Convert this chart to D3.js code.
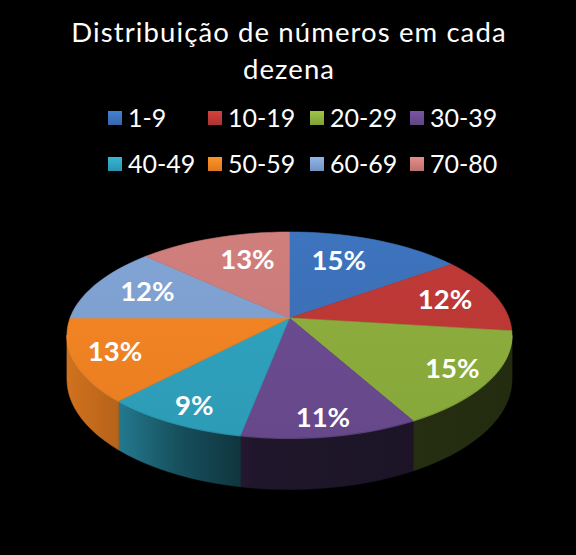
<!DOCTYPE html>
<html><head><meta charset="utf-8">
<script src="https://cdn.jsdelivr.net/npm/d3@7"></script>
<style>html,body{margin:0;padding:0;background:#000;}svg{display:block;}</style>
</head><body>
<script>
const categories = ["1-9","10-19","20-29","30-39","40-49","50-59","60-69","70-80"];
const values = [15,12,15,11,9,13,12,13];
const colors = ["#3b6fb6","#b93835","#8aab3c","#694a8e","#2e9fbb","#ee8122","#7c9ecd","#c87a78"];
const titleLines = ["Distribuição de números em cada","dezena"];

const W = 576, H = 555;
const svg = d3.select("body").append("svg").attr("width", W).attr("height", H);
const defs = svg.append("defs");
svg.append("rect").attr("width", W).attr("height", H).attr("fill", "#000");

// title
const title = svg.append("g").attr("fill", "#fff").attr("font-family", "Lato, 'Open Sans', sans-serif").attr("text-anchor", "middle");
title.selectAll("text").data(titleLines).join("text")
  .attr("x", 289).attr("y", (d, i) => 42 + i * 37)
  .attr("font-size", 27.5).attr("letter-spacing", 1.1).text(d => d);

// legend
const legendFont = 25;
const legCols = [108, 208, 310, 410];
const legRows = [118, 164];
const lg = svg.append("g").attr("font-family", "Lato, 'Open Sans', sans-serif");
categories.forEach((c, i) => {
  const x = legCols[i % 4], y = legRows[Math.floor(i / 4)];
  const gid = "lg" + i;
  const gr = defs.append("linearGradient").attr("id", gid).attr("x1", 0).attr("y1", 0).attr("x2", 0).attr("y2", 1);
  gr.append("stop").attr("offset", 0).attr("stop-color", d3.color(colors[i]).brighter(0.4));
  gr.append("stop").attr("offset", 1).attr("stop-color", d3.color(colors[i]).darker(0.2));
  lg.append("rect").attr("x", x).attr("y", y - 7).attr("width", 14).attr("height", 14).attr("fill", `url(#${gid})`);
  lg.append("text").attr("x", x + 20).attr("y", y + 9).attr("fill", "#fff").attr("font-size", legendFont).text(c);
});

// 3D pie projection
const cx = 289.5, cy = 318, B = 219.5, A = 100.2, k = 0.165, depth = 43;
function proj(theta, f, dz, fx) {
  const u = Math.sin(theta), v = Math.cos(theta);
  const s = 1 / (1 + k * f * v);
  return [cx + B * (fx == null ? f : fx) * u * s, cy - A * f * v * s + dz * s];
}
const pie = d3.pie().sort(null).value(d => d).startAngle(0).endAngle(2 * Math.PI);
const arcs = pie(values);
const line = d3.line();
const N = 60;
function arcPts(a0, a1, dz) {
  const n = Math.max(2, Math.ceil(N * (a1 - a0) / Math.PI));
  return d3.range(n + 1).map(j => proj(a0 + (a1 - a0) * j / n, 1, dz));
}

const th1 = Math.acos(-k), th2 = 2 * Math.PI - th1;
const sideG = svg.append("g");
const topG = svg.append("g");
arcs.forEach((a, i) => {
  const base = d3.rgb(colors[i]);
  const s0 = Math.max(a.startAngle, th1), s1 = Math.min(a.endAngle, th2);
  if (s1 > s0) {
    const gid = "sg" + i;
    const gr = defs.append("linearGradient").attr("id", gid).attr("gradientUnits", "userSpaceOnUse")
      .attr("x1", 66).attr("y1", 0).attr("x2", 512).attr("y2", 0);
    [[0, 0.88], [0.12, 0.76], [0.25, 0.5], [0.42, 0.3], [0.6, 0.28], [1, 0.26]].forEach(([o, m]) => {
      gr.append("stop").attr("offset", o).attr("stop-color", d3.rgb(base.r * m, base.g * m, base.b * m));
    });
    const top = arcPts(s0, s1, 0), bot = arcPts(s0, s1, depth).reverse();
    sideG.append("path").attr("d", line(top.concat(bot)) + "Z").attr("fill", `url(#${gid})`)
      .attr("stroke", `url(#${gid})`).attr("stroke-width", 0.6);
  }
  const gid2 = "tg" + i;
  const gr2 = defs.append("linearGradient").attr("id", gid2).attr("gradientUnits", "userSpaceOnUse")
    .attr("x1", 0).attr("y1", 225).attr("x2", 0).attr("y2", 445);
  gr2.append("stop").attr("offset", 0).attr("stop-color", base.brighter(0.12));
  gr2.append("stop").attr("offset", 1).attr("stop-color", base.darker(0.08));
  const pts = [[cx, cy]].concat(arcPts(a.startAngle, a.endAngle, 0));
  topG.append("path").attr("d", line(pts) + "Z").attr("fill", `url(#${gid2})`)
    .attr("stroke", `url(#${gid2})`).attr("stroke-width", 0.6).attr("stroke-linejoin", "round");
  if (s1 > s0) {
    topG.append("path").attr("d", line(arcPts(s0, s1, 0.5))).attr("fill", "none")
      .attr("stroke", base.brighter(0.6)).attr("stroke-opacity", 0.5).attr("stroke-width", 1);
  }
});

// labels
const labG = svg.append("g").attr("font-family", "Lato, 'Open Sans', sans-serif").attr("font-weight", "bold")
  .attr("fill", "#fff").attr("text-anchor", "middle").attr("font-size", 27.5);
const total = d3.sum(values);
arcs.forEach((a, i) => {
  const mid = (a.startAngle + a.endAngle) / 2;
  const u = Math.sin(mid), v = Math.cos(mid);
  const f = 0.64 + 0.1 * (1 - v);
  const fx = f + 0.05 * u * u - 0.15 * Math.max(v, 0) ** 2;
  const p = proj(mid, f, 0, fx);
  labG.append("text").attr("x", p[0]).attr("y", p[1] + 9 - 4 * v).text(Math.round(values[i] / total * 100) + "%");
});
</script>
</body></html>
